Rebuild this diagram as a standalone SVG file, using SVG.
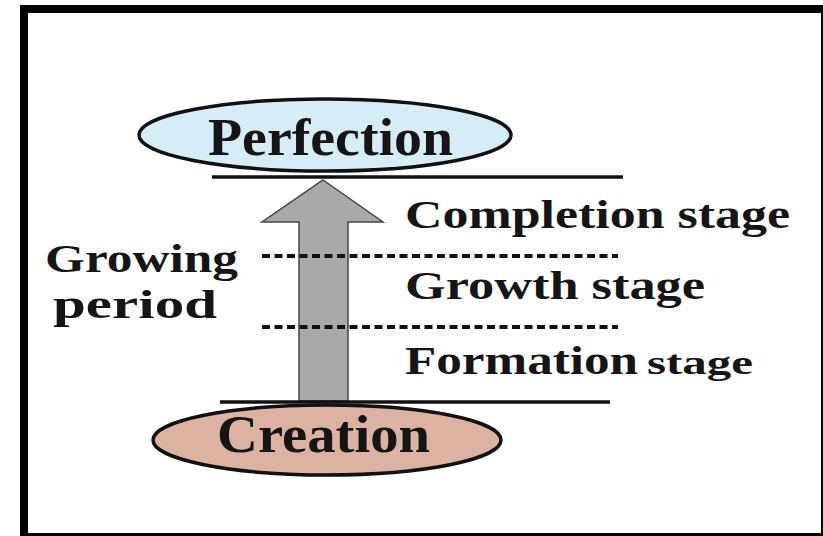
<svg xmlns="http://www.w3.org/2000/svg" width="823" height="536" viewBox="0 0 823 536">
<style>
.t{font-family:"Liberation Serif","Times New Roman",serif;font-weight:bold;fill:#151515}
.node{stroke:#111;stroke-width:3.5}
.solid{stroke:#111;stroke-width:3.5;fill:none}
.dash{stroke:#111;stroke-width:4;stroke-dasharray:8 4.5;fill:none}
</style>
<rect x="0" y="0" width="823" height="536" fill="#fff"/>
<rect x="20" y="5" width="803" height="531" fill="#000"/>
<rect x="28" y="13" width="793" height="520" fill="#fff"/>
<g id="connectors">
<path id="arrow" d="M323,180 L383,222 L348,222 L348,401 L299,401 L299,222 L262,222 Z" fill="#a9a9a9" stroke="#444" stroke-width="1.5"/>
<line class="solid" x1="212" y1="177" x2="623" y2="177"/>
<line class="solid" x1="220" y1="402" x2="610" y2="402"/>
<line class="dash" x1="262" y1="256" x2="618" y2="256"/>
<line class="dash" x1="262" y1="327" x2="618" y2="327"/>
</g>
<g id="perfection">
<ellipse class="node" cx="325" cy="135" rx="186" ry="36" fill="#d6ecf6"/>
<text class="t" x="208" y="155" font-size="52" textLength="245" lengthAdjust="spacingAndGlyphs">Perfection</text>
</g>
<g id="creation">
<ellipse class="node" cx="327" cy="440" rx="174" ry="35" fill="#dcb3a2"/>
<text class="t" x="217" y="452" font-size="52" textLength="213" lengthAdjust="spacingAndGlyphs">Creation</text>
</g>
<g id="growing-period">
<text class="t" x="45" y="272" font-size="41" textLength="193" lengthAdjust="spacingAndGlyphs">Growing</text>
<text class="t" x="53" y="318" font-size="41" textLength="164" lengthAdjust="spacingAndGlyphs">period</text>
</g>
<g id="stages">
<text class="t" x="405" y="228" font-size="40" textLength="385" lengthAdjust="spacingAndGlyphs">Completion stage</text>
<text class="t" x="405" y="299" font-size="40" textLength="300" lengthAdjust="spacingAndGlyphs">Growth stage</text>
<text class="t" x="405" y="374" font-size="40" textLength="233" lengthAdjust="spacingAndGlyphs">Formation</text>
<text class="t" x="647" y="374" font-size="34" textLength="106" lengthAdjust="spacingAndGlyphs">stage</text>
</g>
</svg>
